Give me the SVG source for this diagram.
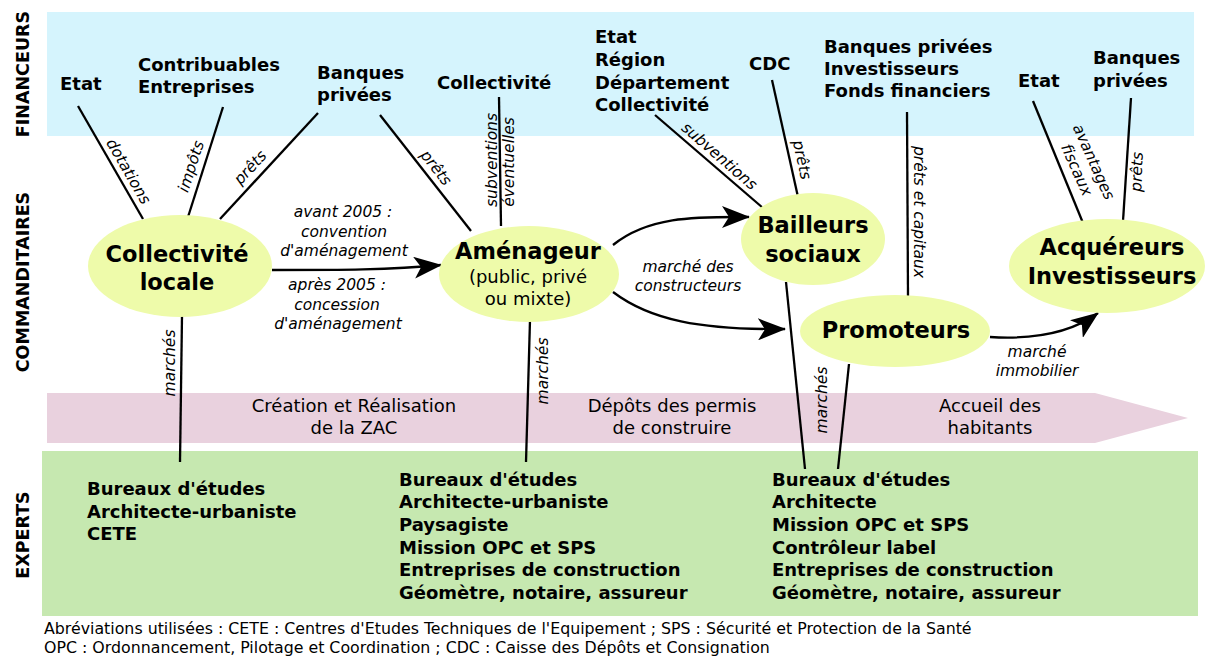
<svg xmlns="http://www.w3.org/2000/svg" width="1209" height="657" viewBox="0 0 1209 657">
<style>
text{font-family:"DejaVu Sans","Liberation Sans",sans-serif;fill:#000}
.b{font-weight:bold;font-size:18px}
.side{font-weight:bold;font-size:17.5px;text-anchor:middle}
.nb{font-weight:bold;font-size:22.5px;text-anchor:middle}
.nr{font-size:18px;text-anchor:middle}
.it{font-style:italic;font-size:15.5px;text-anchor:middle}
.ph{font-size:18px;text-anchor:middle}
.ft{font-size:15.8px}
.ell{fill:#eefbaa}
.ln{stroke:#000;stroke-width:2.3;fill:none}
</style>
<defs>
<marker id="ah" markerWidth="28" markerHeight="22" refX="27" refY="11" orient="auto" markerUnits="userSpaceOnUse" viewBox="0 0 28 22"><path d="M28,11 L0,0 L7,11 L0,22 z" fill="#000"/></marker>
</defs>

<g id="bands">
<rect x="47" y="12" width="1147" height="124" fill="#d5f4fd"/>
<polygon points="47,393 1095,393 1188,418 1095,443 47,443" fill="#e9d1de"/>
<rect x="42" y="451" width="1156" height="165" fill="#c6e8b0"/>
</g>

<g id="side-labels">
<text class="side" transform="translate(29,74) rotate(-90)">FINANCEURS</text>
<text class="side" transform="translate(29,282) rotate(-90)">COMMANDITAIRES</text>
<text class="side" transform="translate(29,535) rotate(-90)">EXPERTS</text>
</g>

<g id="phases">
<text class="ph" x="354" y="412">Création et Réalisation</text>
<text class="ph" x="354" y="434">de la ZAC</text>
<text class="ph" x="672" y="412">Dépôts des permis</text>
<text class="ph" x="672" y="434">de construire</text>
<text class="ph" x="990" y="412">Accueil des</text>
<text class="ph" x="990" y="434">habitants</text>
</g>

<g id="connectors">
<line class="ln" x1="78" y1="106" x2="143" y2="219"/>
<line class="ln" x1="223" y1="107" x2="188" y2="217"/>
<line class="ln" x1="318" y1="113" x2="220" y2="219"/>
<line class="ln" x1="380" y1="115" x2="471" y2="231"/>
<line class="ln" x1="499" y1="97" x2="501" y2="226"/>
<line class="ln" x1="655" y1="115" x2="763" y2="208"/>
<line class="ln" x1="772" y1="80" x2="798" y2="197"/>
<line class="ln" x1="907" y1="112" x2="908" y2="296"/>
<line class="ln" x1="1033" y1="101" x2="1083" y2="223"/>
<line class="ln" x1="1131" y1="98" x2="1123" y2="221"/>
<line class="ln" x1="182" y1="316" x2="180" y2="462"/>
<line class="ln" x1="530" y1="320" x2="526" y2="462"/>
<line class="ln" x1="786" y1="282" x2="805" y2="469"/>
<line class="ln" x1="849" y1="364" x2="838" y2="469"/>
<path class="ln" d="M272,270 C340,270 390,270 441,265" marker-end="url(#ah)"/>
<path class="ln" d="M613,245 C650,215 700,217 749,217" marker-end="url(#ah)"/>
<path class="ln" d="M613,292 C650,320 700,330 785,329" marker-end="url(#ah)"/>
<path class="ln" d="M990,337 C1040,340 1075,330 1098,313" marker-end="url(#ah)"/>
<text class="it" transform="translate(124,174) rotate(60)">dotations</text>
<text class="it" transform="translate(196,168) rotate(-72)">impôts</text>
<text class="it" transform="translate(254,171) rotate(-47)">prêts</text>
<text class="it" transform="translate(432,171) rotate(52)">prêts</text>
<text class="it" transform="translate(497,160) rotate(-90)">subventions</text>
<text class="it" transform="translate(514,162) rotate(-90)">éventuelles</text>
<text class="it" transform="translate(716,160) rotate(41)">subventions</text>
<text class="it" transform="translate(797,161) rotate(77.5)">prêts</text>
<text class="it" transform="translate(914,212) rotate(90)">prêts et capitaux</text>
<text class="it" transform="translate(1089,164) rotate(66)">avantages</text>
<text class="it" transform="translate(1072,172) rotate(66)">fiscaux</text>
<text class="it" transform="translate(1142,172) rotate(-88)">prêts</text>
<text class="it" transform="translate(175,363) rotate(-90)">marchés</text>
<text class="it" transform="translate(548,371) rotate(-90)">marchés</text>
<text class="it" transform="translate(827,400) rotate(-90)">marchés</text>
<text class="it" x="343" y="217">avant 2005 :</text>
<text class="it" x="344" y="237">convention</text>
<text class="it" x="344" y="256">d'aménagement</text>
<text class="it" x="337" y="290">après 2005 :</text>
<text class="it" x="337" y="310">concession</text>
<text class="it" x="338" y="329">d'aménagement</text>
<text class="it" x="688" y="272">marché des</text>
<text class="it" x="688" y="291">constructeurs</text>
<text class="it" x="1037" y="357">marché</text>
<text class="it" x="1037" y="376">immobilier</text>
</g>

<g id="fin-etat1"><text class="b" x="60" y="90">Etat</text></g>
<g id="fin-contribuables"><text class="b" x="138" y="71">Contribuables</text><text class="b" x="138" y="93">Entreprises</text></g>
<g id="fin-banques1"><text class="b" x="317" y="79">Banques</text><text class="b" x="317" y="101">privées</text></g>
<g id="fin-collectivite"><text class="b" x="437" y="89">Collectivité</text></g>
<g id="fin-publics"><text class="b" x="595" y="43">Etat</text><text class="b" x="595" y="66">Région</text><text class="b" x="595" y="88.5">Département</text><text class="b" x="595" y="111">Collectivité</text></g>
<g id="fin-cdc"><text class="b" x="749" y="70">CDC</text></g>
<g id="fin-banques2"><text class="b" x="824" y="53">Banques privées</text><text class="b" x="824" y="75">Investisseurs</text><text class="b" x="824" y="97">Fonds financiers</text></g>
<g id="fin-etat2"><text class="b" x="1018" y="87">Etat</text></g>
<g id="fin-banques3"><text class="b" x="1093" y="64">Banques</text><text class="b" x="1093" y="87">privées</text></g>

<g id="node-collectivite"><ellipse class="ell" cx="180" cy="266" rx="92" ry="51"/><text class="nb" x="177" y="262">Collectivité</text><text class="nb" x="177" y="290">locale</text></g>
<g id="node-amenageur"><ellipse class="ell" cx="529" cy="274" rx="90" ry="48"/><text class="nb" x="528" y="259">Aménageur</text><text class="nr" x="528" y="283">(public, privé</text><text class="nr" x="528" y="305">ou mixte)</text></g>
<g id="node-bailleurs"><ellipse class="ell" cx="813" cy="239" rx="72" ry="46"/><text class="nb" x="813" y="233">Bailleurs</text><text class="nb" x="813" y="262">sociaux</text></g>
<g id="node-promoteurs"><ellipse class="ell" cx="895" cy="331" rx="95" ry="36"/><text class="nb" x="896" y="338">Promoteurs</text></g>
<g id="node-acquereurs"><ellipse class="ell" cx="1107" cy="266" rx="98" ry="47"/><text class="nb" x="1112" y="255">Acquéreurs</text><text class="nb" x="1112" y="284">Investisseurs</text></g>

<g id="exp-1"><text class="b" x="87" y="495">Bureaux d'études</text><text class="b" x="87" y="518">Architecte-urbaniste</text><text class="b" x="87" y="540">CETE</text></g>
<g id="exp-2"><text class="b" x="399" y="486">Bureaux d'études</text><text class="b" x="399" y="508">Architecte-urbaniste</text><text class="b" x="399" y="531">Paysagiste</text><text class="b" x="399" y="554">Mission OPC et SPS</text><text class="b" x="399" y="576">Entreprises de construction</text><text class="b" x="399" y="599">Géomètre, notaire, assureur</text></g>
<g id="exp-3"><text class="b" x="772" y="486">Bureaux d'études</text><text class="b" x="772" y="508">Architecte</text><text class="b" x="772" y="531">Mission OPC et SPS</text><text class="b" x="772" y="554">Contrôleur label</text><text class="b" x="772" y="576">Entreprises de construction</text><text class="b" x="772" y="599">Géomètre, notaire, assureur</text></g>

<g id="footer">
<text class="ft" x="44" y="634">Abréviations utilisées : CETE : Centres d'Etudes Techniques de l'Equipement ; SPS : Sécurité et Protection de la Santé</text>
<text class="ft" x="44" y="653">OPC : Ordonnancement, Pilotage et Coordination ; CDC : Caisse des Dépôts et Consignation</text>
</g>
</svg>
